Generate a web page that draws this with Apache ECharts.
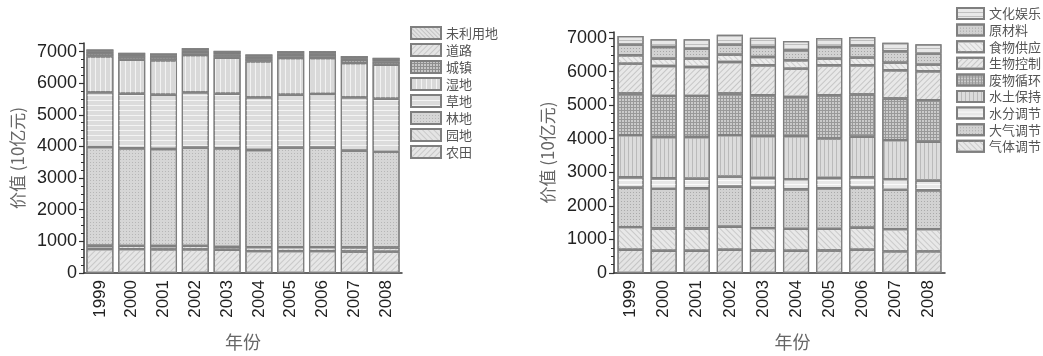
<!DOCTYPE html>
<html>
<head>
<meta charset="utf-8">
<script src="https://cdn.jsdelivr.net/npm/echarts@6/dist/echarts.min.js"></script>
<style>
  html, body { margin: 0; padding: 0; background: #fff; }
  #chart { width: 1043px; height: 356px; }
</style>
</head>
<body>
<div id="chart"></div>
<script>
// ---- data ----
const years = ['1999', '2000', '2001', '2002', '2003', '2004', '2005', '2006', '2007', '2008'];
const yTicks = ['0', '1000', '2000', '3000', '4000', '5000', '6000', '7000'];

// land-use value, stacked bottom to top
const landNames = ['农田', '园地', '林地', '草地', '湿地', '城镇', '道路', '未利用地'];
const farmland  = [757, 754, 747, 747, 735, 690, 690, 690, 680, 675];
const orchard   = [104, 104, 108, 111, 90, 127, 128, 128, 135, 133];
const forest    = [3123, 3085, 3066, 3105, 3118, 3073, 3145, 3145, 3053, 3028];
const grassland = [1726, 1723, 1713, 1747, 1723, 1662, 1671, 1693, 1684, 1672];
const wetland   = [1136, 1074, 1086, 1177, 1136, 1136, 1159, 1137, 1083, 1073];
const urban     = [100, 100, 100, 100, 100, 100, 100, 100, 100, 100];
const road      = [50, 50, 50, 50, 50, 50, 50, 50, 50, 50];
const unused    = [70, 70, 70, 70, 70, 70, 70, 70, 70, 70];

// ecosystem-service value, stacked bottom to top
const serviceNames = ['其他', '气体调节', '大气调节', '水分调节', '水土保持', '废物循环', '生物控制', '食物供应', '原材料', '文化娱乐'];
const other        = [692, 662, 662, 692, 672, 662, 672, 692, 643, 643];
const gasReg       = [674, 664, 664, 684, 664, 654, 644, 654, 663, 663];
const climateReg   = [1178, 1179, 1198, 1198, 1208, 1179, 1208, 1198, 1179, 1159];
const waterReg     = [308, 317, 288, 298, 288, 297, 308, 308, 307, 288];
const soilCons     = [1257, 1228, 1238, 1237, 1247, 1287, 1178, 1207, 1168, 1158];
const wasteCycle   = [1239, 1227, 1227, 1239, 1218, 1168, 1287, 1259, 1239, 1238];
const bioControl   = [891, 891, 862, 939, 891, 843, 891, 870, 841, 861];
const foodSupply   = [247, 219, 248, 219, 247, 247, 199, 229, 228, 198];
const rawMaterial  = [318, 346, 297, 298, 298, 297, 346, 365, 336, 328];
const culture      = [256, 228, 277, 296, 278, 277, 266, 247, 258, 276];

// ---- fill patterns ----
const hLines = (c, gap) => ({ symbol: 'rect', symbolSize: 1, color: c, dashArrayX: [1, 0], dashArrayY: [1, gap] });
const vLines = (c, gap) => ({ symbol: 'rect', symbolSize: 1, color: c, dashArrayX: [1, gap], dashArrayY: [1, 0] });
const diag = (c, gap, rot) => ({ symbol: 'rect', symbolSize: 1, color: c, dashArrayX: [1, 0], dashArrayY: [1, gap], rotation: rot });
const dots = (c, gap) => ({ symbol: 'rect', symbolSize: 1, color: c, dashArrayX: [1, gap], dashArrayY: [1, gap] });
const mesh = (c) => ({ symbol: 'rect', symbolSize: 1, color: c, dashArrayX: [[1, 0], [1, 2], [1, 2]], dashArrayY: [1, 0] });

const landStyles = [
  { color: '#e6e6e6', decal: diag('#c8c8c8', 3, -Math.PI / 4) },
  { color: '#e4e4e4', decal: diag('#cacaca', 3, Math.PI / 4) },
  { color: '#d6d6d6', decal: dots('#b6b6b6', 2) },
  { color: '#dcdcdc', decal: hLines('#f4f4f4', 4) },
  { color: '#d9d9d9', decal: vLines('#f2f2f2', 4) },
  { color: '#c6c6c6', decal: mesh('#8e8e8e') },
  { color: '#e5e5e5', decal: diag('#c8c8c8', 3, -Math.PI / 4) },
  { color: '#e2e2e2', decal: diag('#c2c2c2', 2, Math.PI / 4) }
];

const serviceStyles = [
  { color: '#e4e4e4', decal: diag('#c4c4c4', 3, -Math.PI / 4) },
  { color: '#e8e8e8', decal: diag('#cacaca', 3, Math.PI / 4) },
  { color: '#d2d2d2', decal: dots('#aaaaaa', 2) },
  { color: '#e8e8e8', decal: hLines('#fafafa', 3) },
  { color: '#dcdcdc', decal: vLines('#bababa', 3) },
  { color: '#cbcbcb', decal: mesh('#999999') },
  { color: '#e8e8e8', decal: diag('#c6c6c6', 3, -Math.PI / 4) },
  { color: '#ededed', decal: diag('#d0d0d0', 3, Math.PI / 4) },
  { color: '#d2d2d2', decal: dots('#a6a6a6', 2) },
  { color: '#e8e8e8', decal: hLines('#bfbfbf', 3) }
];

const landData = [farmland, orchard, forest, grassland, wetland, urban, road, unused];
const serviceData = [other, gasReg, climateReg, waterReg, soilCons, wasteCycle, bioControl, foodSupply, rawMaterial, culture];

const numFont = '"Liberation Sans", Arial, sans-serif';
const cjkFont = '"Noto Sans CJK SC", sans-serif';

function makeSeries(names, data, styles, axisIdx, stack, gap) {
  return names.map((n, i) => ({
    name: n,
    type: 'bar',
    stack: stack,
    xAxisIndex: axisIdx,
    yAxisIndex: axisIdx,
    barCategoryGap: gap,
    data: data[i],
    itemStyle: {
      color: styles[i].color,
      decal: styles[i].decal,
      borderColor: '#7f7f7f',
      borderWidth: 1.2
    },
    emphasis: { disabled: true }
  }));
}

function xAxisCfg(gridIndex, namePad) {
  return {
    type: 'category',
    gridIndex: gridIndex,
    data: years,
    name: '年份',
    nameLocation: 'middle',
    nameGap: 60,
    nameTextStyle: { fontFamily: cjkFont, fontSize: 18, color: '#666', padding: namePad },
    axisLine: { lineStyle: { color: '#333', width: 1.5 } },
    axisTick: { alignWithLabel: true, length: 5, lineStyle: { color: '#333', width: 1.2 } },
    axisLabel: { rotate: 90, fontFamily: numFont, fontSize: 17, color: '#222', margin: 7 }
  };
}

function yAxisCfg(gridIndex, max, nameGap) {
  return {
    type: 'value',
    gridIndex: gridIndex,
    min: 0,
    max: max,
    interval: 1000,
    name: '价值 (10亿元)',
    nameLocation: 'middle',
    nameGap: nameGap,
    nameRotate: 90,
    nameTextStyle: { fontFamily: cjkFont, fontSize: 17, color: '#666' },
    axisLine: { show: true, lineStyle: { color: '#333', width: 1.5 } },
    axisTick: { show: true, length: 5, lineStyle: { color: '#333', width: 1.2 } },
    minorTick: { show: true, splitNumber: 4, length: 3, lineStyle: { color: '#333', width: 1 } },
    splitLine: { show: false },
    axisLabel: {
      fontFamily: numFont, fontSize: 18, color: '#222', margin: 7, showMaxLabel: false,
      formatter: v => (yTicks.includes(String(v)) ? String(v) : '')
    }
  };
}

function legendCfg(names, left, top, w, h, gap) {
  return {
    orient: 'vertical',
    left: left,
    top: top,
    padding: 0,
    data: names.slice().reverse(),
    icon: 'rect',
    itemWidth: w,
    itemHeight: h,
    itemGap: gap,
    selectedMode: false,
    textStyle: { fontFamily: cjkFont, fontSize: 13, color: '#555' }
  };
}

const chart = echarts.init(document.getElementById('chart'), null, { renderer: 'canvas' });
chart.setOption({
  animation: false,
  backgroundColor: '#fff',
  grid: [
    { left: 84, top: 43, width: 318, height: 230 },
    { left: 614, top: 32, width: 331, height: 241 }
  ],
  xAxis: [xAxisCfg(0, [0, 0, 0, 0]), xAxisCfg(1, [0, 0, 0, 26])],
  yAxis: [yAxisCfg(0, 7270, 58), yAxisCfg(1, 7180, 58)],
  legend: [
    legendCfg(landNames, 410, 26, 30, 12, 3),
    legendCfg(serviceNames.slice(1), 956, 7, 27, 11, 3.6)
  ],
  series: [
    ...makeSeries(landNames, landData, landStyles, 0, 'land', '15%'),
    ...makeSeries(serviceNames, serviceData, serviceStyles, 1, 'service', '21%')
  ]
});
</script>
</body>
</html>
